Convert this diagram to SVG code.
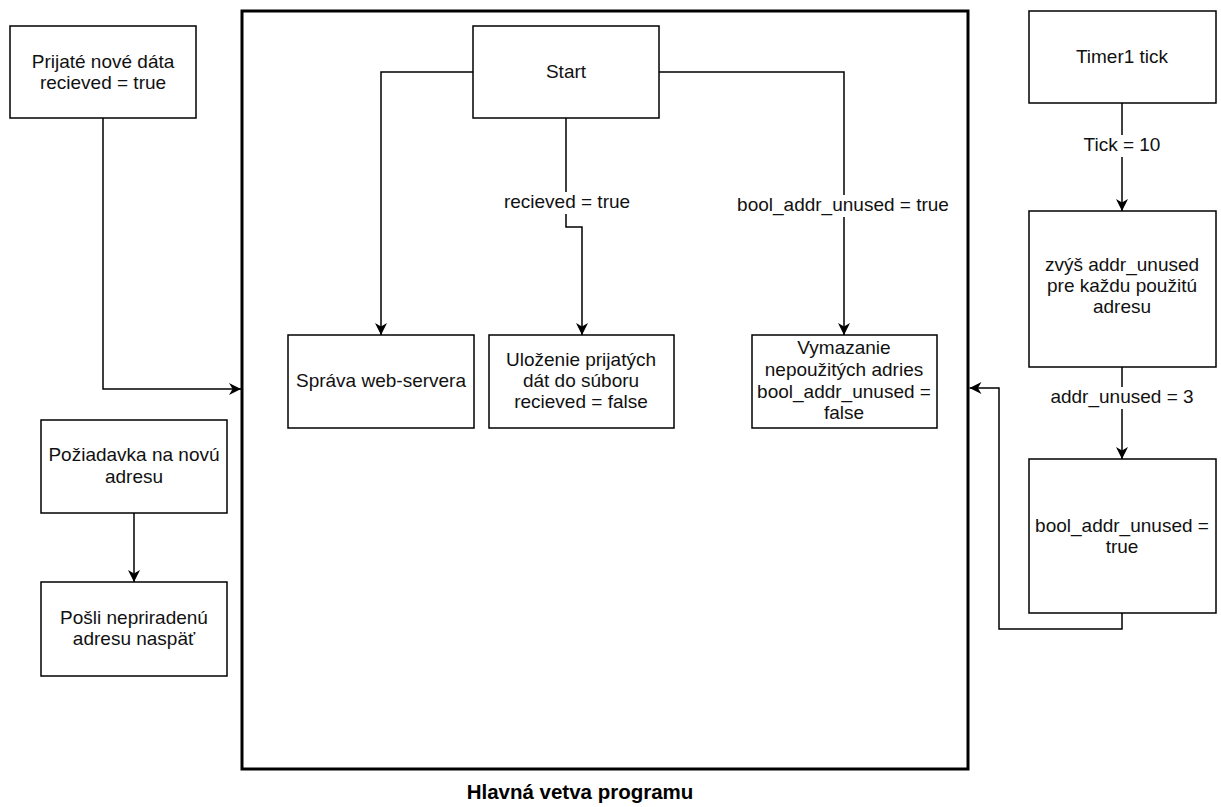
<svg xmlns="http://www.w3.org/2000/svg" width="1221" height="807" viewBox="0 0 1221 807">
<style>
.box{fill:#fff;stroke:#000;stroke-width:1.5}
.cont{fill:#fff;stroke:#000;stroke-width:3}
.t{font-family:"Liberation Sans",Arial,sans-serif;font-size:19px;fill:#111;text-anchor:middle}
.title{font-family:"Liberation Sans",Arial,sans-serif;font-size:20.5px;font-weight:bold;fill:#000;text-anchor:middle}
.c{fill:none;stroke:#000;stroke-width:1.5}
.lbg{fill:#fff}
</style>
<defs>
<marker id="arr" viewBox="0 0 10 10" refX="10" refY="5" markerWidth="12" markerHeight="12" markerUnits="userSpaceOnUse" orient="auto">
<path d="M0,0 L10,5 L0,10 L3,5 z" fill="#000"/>
</marker>
</defs>
<rect width="1221" height="807" fill="#fff"/>
<g id="main-container">
<rect class="cont" x="242" y="11" width="726" height="758"/>
<text class="title" x="580" y="799">Hlavná vetva programu</text>
</g>
<g id="prijate">
<rect class="box" x="10" y="26" width="186" height="92"/>
<text class="t" x="103" y="68">Prijaté nové dáta</text>
<text class="t" x="103" y="89">recieved = true</text>
</g>
<g id="poziadavka">
<rect class="box" x="41" y="420" width="186" height="93"/>
<text class="t" x="134" y="461">Požiadavka na novú</text>
<text class="t" x="134" y="483">adresu</text>
</g>
<g id="posli">
<rect class="box" x="41" y="582" width="186" height="94"/>
<text class="t" x="134" y="624">Pošli nepriradenú</text>
<text class="t" x="134" y="645">adresu naspäť</text>
</g>
<g id="start">
<rect class="box" x="473" y="26" width="186" height="92"/>
<text class="t" x="566" y="78">Start</text>
</g>
<g id="sprava">
<rect class="box" x="288" y="335" width="186" height="93"/>
<text class="t" x="381" y="387">Správa web-servera</text>
</g>
<g id="ulozenie">
<rect class="box" x="489" y="335" width="185" height="93"/>
<text class="t" x="581" y="366">Uloženie prijatých</text>
<text class="t" x="581" y="387">dát do súboru</text>
<text class="t" x="581" y="408">recieved = false</text>
</g>
<g id="vymazanie">
<rect class="box" x="752" y="335" width="185" height="93"/>
<text class="t" x="844" y="354">Vymazanie</text>
<text class="t" x="844" y="376">nepoužitých adries</text>
<text class="t" x="844" y="398">bool_addr_unused =</text>
<text class="t" x="844" y="419">false</text>
</g>
<g id="timer">
<rect class="box" x="1029" y="11" width="187" height="92"/>
<text class="t" x="1122" y="63">Timer1 tick</text>
</g>
<g id="zvys">
<rect class="box" x="1029" y="211" width="187" height="156"/>
<text class="t" x="1122" y="271">zvýš addr_unused</text>
<text class="t" x="1122" y="292">pre každu použitú</text>
<text class="t" x="1122" y="313">adresu</text>
</g>
<g id="bool">
<rect class="box" x="1029" y="459" width="187" height="154"/>
<text class="t" x="1122" y="532">bool_addr_unused =</text>
<text class="t" x="1122" y="553">true</text>
</g>
<g id="connectors">
<path class="c" d="M103,118 V389 H241" marker-end="url(#arr)"/>
<path class="c" d="M473,72 H381 V335" marker-end="url(#arr)"/>
<path class="c" d="M566,118 V227 H582 V335" marker-end="url(#arr)"/>
<path class="c" d="M659,72 H844 V335" marker-end="url(#arr)"/>
<path class="c" d="M1122,103 V211" marker-end="url(#arr)"/>
<path class="c" d="M1122,367 V459" marker-end="url(#arr)"/>
<path class="c" d="M1122,613 V629 H999 V388 H969.5" marker-end="url(#arr)"/>
<path class="c" d="M134,513 V582" marker-end="url(#arr)"/>
<rect class="lbg" x="498" y="192" width="138" height="22"/>
<text class="t" x="567" y="208">recieved = true</text>
<rect class="lbg" x="736" y="195" width="214" height="22"/>
<text class="t" x="843" y="211">bool_addr_unused = true</text>
<rect class="lbg" x="1078" y="135" width="88" height="22"/>
<text class="t" x="1122" y="151">Tick = 10</text>
<rect class="lbg" x="1047" y="387" width="150" height="22"/>
<text class="t" x="1122" y="403">addr_unused = 3</text>
</g>
</svg>
